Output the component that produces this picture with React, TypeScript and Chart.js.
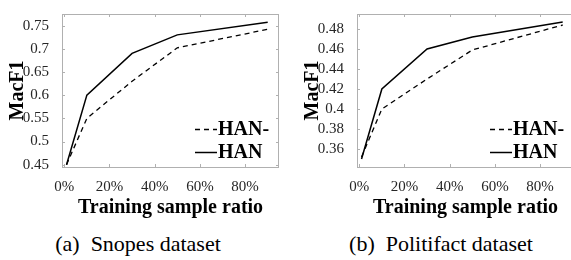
import React, { useEffect, useRef } from "react";
import { Chart, registerables } from "chart.js";

Chart.register(...registerables);

const ratios = [1, 10, 30, 50, 90];
const xTicks = [0, 20, 40, 60, 80];

const snopesHANminus = [0.45, 0.55, 0.63, 0.702, 0.742];
const snopesHAN = [0.45, 0.6, 0.69, 0.73, 0.757];
const snopesYTicks = [0.45, 0.5, 0.55, 0.6, 0.65, 0.7, 0.75];
const snopesYLabels = ["0.45", "0.5", "0.55", "0.6", "0.65", "0.7", "0.75"];

const politHANminus = [0.352, 0.4, 0.43, 0.459, 0.484];
const politHAN = [0.35, 0.42, 0.46, 0.472, 0.487];
const politYTicks = [0.36, 0.38, 0.4, 0.42, 0.44, 0.46, 0.48];
const politYLabels = ["0.36", "0.38", "0.4", "0.42", "0.44", "0.46", "0.48"];

const FAMILY = "Liberation Serif";

function makeBox() {
  return {
    id: "boxTicks",
    beforeDatasetsDraw(chart: any) {
      const { ctx, chartArea: a, scales } = chart;
      const x = scales.x;
      const y = scales.y;
      ctx.save();
      ctx.strokeStyle = "#b0b0b0";
      ctx.lineWidth = 1;
      ctx.strokeRect(a.left + 0.5, a.top + 0.5, a.right - a.left - 1, a.bottom - a.top);
      const tl = 3;
      ctx.beginPath();
      x.ticks.forEach((t: any) => {
        const px = Math.round(x.getPixelForValue(t.value)) + 0.5;
        ctx.moveTo(px, a.bottom);
        ctx.lineTo(px, a.bottom - tl);
        ctx.moveTo(px, a.top);
        ctx.lineTo(px, a.top + tl);
      });
      y.ticks.forEach((t: any) => {
        const py = Math.round(y.getPixelForValue(t.value)) + 0.5;
        ctx.moveTo(a.left, py);
        ctx.lineTo(a.left + tl, py);
        ctx.moveTo(a.right, py);
        ctx.lineTo(a.right - tl, py);
      });
      ctx.stroke();
      ctx.restore();
    },
  };
}

function makeLegend() {
  return {
    id: "innerLegend",
    afterDatasetsDraw(chart: any) {
      const { ctx, chartArea: a } = chart;
      ctx.save();
      ctx.font = `bold 20px "${FAMILY}"`;
      ctx.fillStyle = "#000";
      ctx.textBaseline = "middle";
      ctx.textAlign = "left";
      const rows = [a.bottom - 38, a.bottom - 15];
      chart.data.datasets.forEach((ds: any, i: number) => {
        const yy = rows[i] + 0.5;
        ctx.strokeStyle = "#000";
        ctx.lineWidth = ds.borderWidth;
        ctx.setLineDash(ds.borderDash || []);
        ctx.beginPath();
        ctx.moveTo(a.right - 84, yy);
        ctx.lineTo(a.right - 62, yy);
        ctx.stroke();
        ctx.setLineDash([]);
        ctx.fillText(ds.label, a.right - 61, rows[i] + 1);
      });
      ctx.restore();
    },
  };
}

function Panel(props: {
  left: number;
  minus: number[];
  han: number[];
  yMin: number;
  yMax: number;
  yTicks: number[];
  yLabels: string[];
}) {
  const ref = useRef<HTMLCanvasElement>(null);
  useEffect(() => {
    const fam = `"${FAMILY}"`;
    const chart = new Chart(ref.current as HTMLCanvasElement, {
      type: "line",
      data: {
        datasets: [
          {
            label: "HAN-",
            data: ratios.map((r, i) => ({ x: r, y: props.minus[i] })),
            borderColor: "#000",
            borderWidth: 1.3,
            borderDash: [5, 4],
            pointRadius: 0,
            tension: 0,
          },
          {
            label: "HAN",
            data: ratios.map((r, i) => ({ x: r, y: props.han[i] })),
            borderColor: "#000",
            borderWidth: 1.5,
            pointRadius: 0,
            tension: 0,
          },
        ],
      },
      options: {
        animation: false,
        responsive: false,
        devicePixelRatio: 1,
        layout: { padding: { left: 0, right: 6, top: 5, bottom: 0 } },
        plugins: { legend: { display: false }, tooltip: { enabled: false } },
        scales: {
          x: {
            type: "linear",
            min: -1,
            max: 95,
            grid: { display: false },
            border: { display: false },
            afterBuildTicks: (s: any) => {
              s.ticks = xTicks.map((v) => ({ value: v }));
            },
            afterFit: (s: any) => {
              s.height = 58;
            },
            ticks: {
              padding: 3,
              color: "#262626",
              font: { family: fam, size: 15 },
              callback: (v: any) => `${v}%`,
              maxRotation: 0,
            },
            title: {
              display: true,
              text: "Training sample ratio",
              color: "#000",
              font: { family: fam, size: 20, weight: "bold" },
              padding: { top: 0, bottom: 5 },
            },
          },
          y: {
            type: "linear",
            min: props.yMin,
            max: props.yMax,
            grid: { display: false },
            border: { display: false },
            afterBuildTicks: (s: any) => {
              s.ticks = props.yTicks.map((v) => ({ value: v }));
            },
            afterFit: (s: any) => {
              s.width = 62;
            },
            ticks: {
              padding: 5,
              color: "#262626",
              font: { family: fam, size: 15 },
              callback: (v: any) => {
                const i = props.yTicks.indexOf(v);
                return i >= 0 ? props.yLabels[i] : "";
              },
            },
            title: {
              display: true,
              text: "MacF1",
              color: "#000",
              font: { family: fam, size: 20, weight: "bold" },
              padding: { top: 6, bottom: 0 },
            },
          },
        },
      },
      plugins: [makeBox(), makeLegend()],
    } as any);
    return () => chart.destroy();
  }, []);
  return (
    <canvas
      ref={ref}
      width={285}
      height={225}
      style={{ position: "absolute", left: props.left, top: 0, width: 285, height: 225 }}
    />
  );
}

export default function App() {
  const cap: React.CSSProperties = {
    position: "absolute",
    top: 229,
    fontFamily: `"${FAMILY}"`,
    fontSize: 22,
    lineHeight: "30px",
    color: "#000",
    whiteSpace: "pre",
    transform: "translateX(-50%)",
  };
  return (
    <div
      style={{
        position: "fixed",
        left: 0,
        top: 0,
        width: 571,
        height: 260,
        overflow: "hidden",
        background: "#fff",
      }}
    >
      <Panel left={0} minus={snopesHANminus} han={snopesHAN} yMin={0.445} yMax={0.775} yTicks={snopesYTicks} yLabels={snopesYLabels} />
      <Panel left={295} minus={politHANminus} han={politHAN} yMin={0.342} yMax={0.495} yTicks={politYTicks} yLabels={politYLabels} />
      <div style={{ ...cap, left: 138 }}>(a)  Snopes dataset</div>
      <div style={{ ...cap, left: 441 }}>(b)  Politifact dataset</div>
    </div>
  );
}
